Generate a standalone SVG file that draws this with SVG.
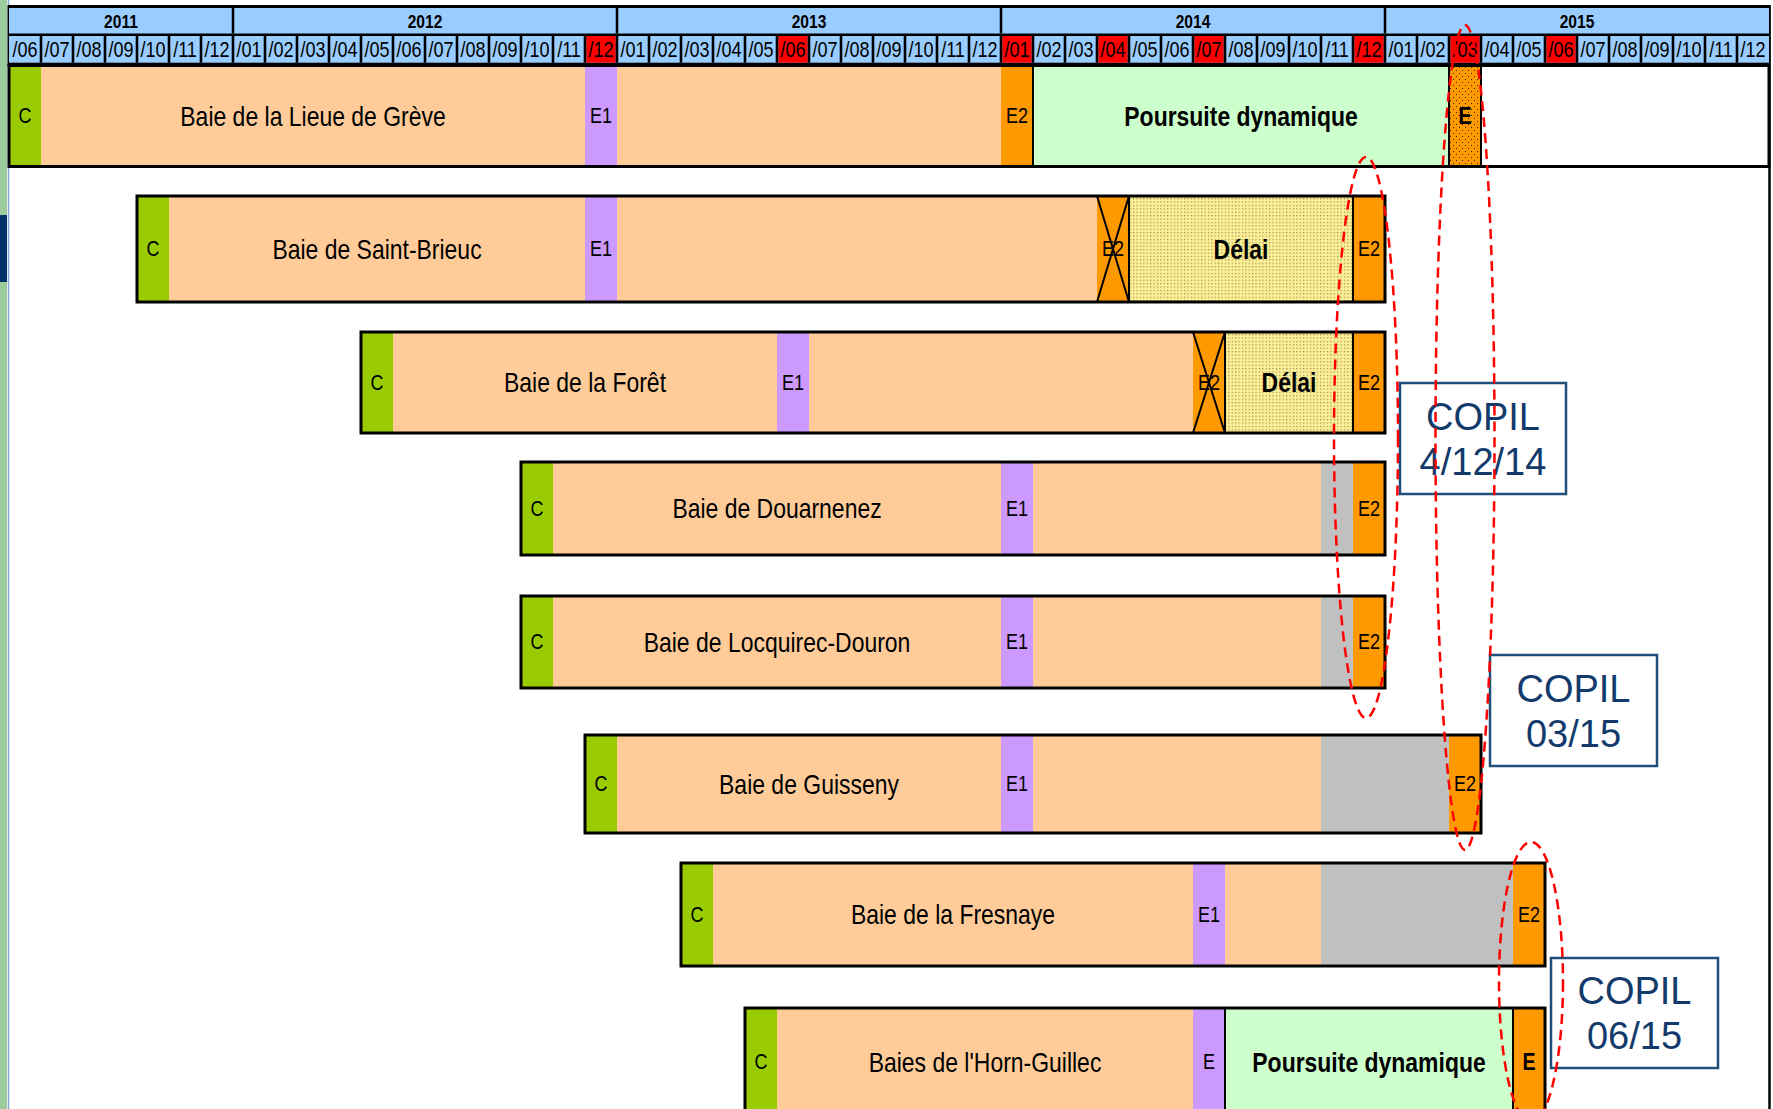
<svg xmlns="http://www.w3.org/2000/svg" width="1773" height="1109" viewBox="0 0 1773 1109">
<style>
.t{font-family:"Liberation Sans Narrow","Arial Narrow","Liberation Sans",Arial,sans-serif;text-anchor:middle;fill:#000}
.big{font-size:28px}
.b{font-weight:bold}
.sm{font-size:22px}
.mo{font-size:22px}
.yr{font-size:19px;font-weight:bold}
.be{font-size:24px;font-weight:bold}
.cp{font-family:"Liberation Sans",Arial,sans-serif;font-size:38px;fill:#123A6B;text-anchor:middle}
.box{fill:#fff;stroke:#1F4E79;stroke-width:2.5}
.ell{fill:none;stroke:#FF0000;stroke-width:2.5;stroke-dasharray:10 6}
.bd{fill:none;stroke:#000;stroke-width:3}
.sep{stroke:#000;stroke-width:2}
.c{fill:#99CC00}.p{fill:#FFCC99}.e1{fill:#CC99FF}.e2{fill:#FF9900}.pd{fill:#CCFFCC}.g{fill:#C0C0C0}.r{fill:#FF0000}
</style>
<defs>
<pattern id="dotY" width="3.4" height="3.4" patternUnits="userSpaceOnUse"><rect width="3.4" height="3.4" fill="#FCEF95"/><rect x="1" y="1" width="1" height="1" fill="#6b6440"/></pattern>
<pattern id="dotO" width="6" height="6" patternUnits="userSpaceOnUse"><rect width="6" height="6" fill="#FF9900"/><rect x="1" y="1" width="1" height="1" fill="#3a2a08"/><rect x="4" y="4" width="1" height="1" fill="#3a2a08"/></pattern>
</defs>
<rect width="1773" height="1109" fill="#fff"/>
<g id="frame">
<rect x="0" y="0" width="7" height="1109" fill="#9CCB9C"/>
<rect x="0" y="215" width="7" height="67" fill="#003366"/>
<line x1="8.5" y1="0" x2="8.5" y2="1109" stroke="#7FA6D6" stroke-width="1.5"/>
<line x1="1769.5" y1="5" x2="1769.5" y2="1109" stroke="#000" stroke-width="2.5"/>
</g>
<g id="timeline-header">
<rect x="7.5" y="5" width="1763" height="62" fill="#000"/>
<rect x="9" y="8" width="1760" height="25.5" fill="#99CCFF"/>
<rect x="9" y="36" width="1760" height="26.7" fill="#99CCFF"/>
<path d="M233 8v25.5M617 8v25.5M1001 8v25.5M1385 8v25.5" stroke="#000" stroke-width="2.5"/>
<g class="r">
<rect x="586.3" y="36" width="29.4" height="26.7"/>
<rect x="778.3" y="36" width="29.4" height="26.7"/>
<rect x="1002.3" y="36" width="29.4" height="26.7"/>
<rect x="1098.3" y="36" width="29.4" height="26.7"/>
<rect x="1194.3" y="36" width="29.4" height="26.7"/>
<rect x="1354.3" y="36" width="29.4" height="26.7"/>
<rect x="1450.3" y="36" width="29.4" height="26.7"/>
<rect x="1546.3" y="36" width="29.4" height="26.7"/>
</g>
<path d="M41 36v26.7M73 36v26.7M105 36v26.7M137 36v26.7M169 36v26.7M201 36v26.7M233 36v26.7M265 36v26.7M297 36v26.7M329 36v26.7M361 36v26.7M393 36v26.7M425 36v26.7M457 36v26.7M489 36v26.7M521 36v26.7M553 36v26.7M585 36v26.7M617 36v26.7M649 36v26.7M681 36v26.7M713 36v26.7M745 36v26.7M777 36v26.7M809 36v26.7M841 36v26.7M873 36v26.7M905 36v26.7M937 36v26.7M969 36v26.7M1001 36v26.7M1033 36v26.7M1065 36v26.7M1097 36v26.7M1129 36v26.7M1161 36v26.7M1193 36v26.7M1225 36v26.7M1257 36v26.7M1289 36v26.7M1321 36v26.7M1353 36v26.7M1385 36v26.7M1417 36v26.7M1449 36v26.7M1481 36v26.7M1513 36v26.7M1545 36v26.7M1577 36v26.7M1609 36v26.7M1641 36v26.7M1673 36v26.7M1705 36v26.7M1737 36v26.7" stroke="#000" stroke-width="2.6"/>
<g class="t yr">
<text x="0" y="28" transform="matrix(.82 0 0 1 121 0)">2011</text><text x="0" y="28" transform="matrix(.82 0 0 1 425 0)">2012</text><text x="0" y="28" transform="matrix(.82 0 0 1 809 0)">2013</text><text x="0" y="28" transform="matrix(.82 0 0 1 1193 0)">2014</text><text x="0" y="28" transform="matrix(.82 0 0 1 1577 0)">2015</text>
</g>
<g class="t mo">
<text x="0" y="57" transform="matrix(.82 0 0 1 25 0)">/06</text><text x="0" y="57" transform="matrix(.82 0 0 1 57 0)">/07</text><text x="0" y="57" transform="matrix(.82 0 0 1 89 0)">/08</text><text x="0" y="57" transform="matrix(.82 0 0 1 121 0)">/09</text><text x="0" y="57" transform="matrix(.82 0 0 1 153 0)">/10</text><text x="0" y="57" transform="matrix(.82 0 0 1 185 0)">/11</text><text x="0" y="57" transform="matrix(.82 0 0 1 217 0)">/12</text>
<text x="0" y="57" transform="matrix(.82 0 0 1 249 0)">/01</text><text x="0" y="57" transform="matrix(.82 0 0 1 281 0)">/02</text><text x="0" y="57" transform="matrix(.82 0 0 1 313 0)">/03</text><text x="0" y="57" transform="matrix(.82 0 0 1 345 0)">/04</text><text x="0" y="57" transform="matrix(.82 0 0 1 377 0)">/05</text><text x="0" y="57" transform="matrix(.82 0 0 1 409 0)">/06</text><text x="0" y="57" transform="matrix(.82 0 0 1 441 0)">/07</text><text x="0" y="57" transform="matrix(.82 0 0 1 473 0)">/08</text><text x="0" y="57" transform="matrix(.82 0 0 1 505 0)">/09</text><text x="0" y="57" transform="matrix(.82 0 0 1 537 0)">/10</text><text x="0" y="57" transform="matrix(.82 0 0 1 569 0)">/11</text><text x="0" y="57" transform="matrix(.82 0 0 1 601 0)">/12</text>
<text x="0" y="57" transform="matrix(.82 0 0 1 633 0)">/01</text><text x="0" y="57" transform="matrix(.82 0 0 1 665 0)">/02</text><text x="0" y="57" transform="matrix(.82 0 0 1 697 0)">/03</text><text x="0" y="57" transform="matrix(.82 0 0 1 729 0)">/04</text><text x="0" y="57" transform="matrix(.82 0 0 1 761 0)">/05</text><text x="0" y="57" transform="matrix(.82 0 0 1 793 0)">/06</text><text x="0" y="57" transform="matrix(.82 0 0 1 825 0)">/07</text><text x="0" y="57" transform="matrix(.82 0 0 1 857 0)">/08</text><text x="0" y="57" transform="matrix(.82 0 0 1 889 0)">/09</text><text x="0" y="57" transform="matrix(.82 0 0 1 921 0)">/10</text><text x="0" y="57" transform="matrix(.82 0 0 1 953 0)">/11</text><text x="0" y="57" transform="matrix(.82 0 0 1 985 0)">/12</text>
<text x="0" y="57" transform="matrix(.82 0 0 1 1017 0)">/01</text><text x="0" y="57" transform="matrix(.82 0 0 1 1049 0)">/02</text><text x="0" y="57" transform="matrix(.82 0 0 1 1081 0)">/03</text><text x="0" y="57" transform="matrix(.82 0 0 1 1113 0)">/04</text><text x="0" y="57" transform="matrix(.82 0 0 1 1145 0)">/05</text><text x="0" y="57" transform="matrix(.82 0 0 1 1177 0)">/06</text><text x="0" y="57" transform="matrix(.82 0 0 1 1209 0)">/07</text><text x="0" y="57" transform="matrix(.82 0 0 1 1241 0)">/08</text><text x="0" y="57" transform="matrix(.82 0 0 1 1273 0)">/09</text><text x="0" y="57" transform="matrix(.82 0 0 1 1305 0)">/10</text><text x="0" y="57" transform="matrix(.82 0 0 1 1337 0)">/11</text><text x="0" y="57" transform="matrix(.82 0 0 1 1369 0)">/12</text>
<text x="0" y="57" transform="matrix(.82 0 0 1 1401 0)">/01</text><text x="0" y="57" transform="matrix(.82 0 0 1 1433 0)">/02</text><text x="0" y="57" transform="matrix(.82 0 0 1 1465 0)">/03</text><text x="0" y="57" transform="matrix(.82 0 0 1 1497 0)">/04</text><text x="0" y="57" transform="matrix(.82 0 0 1 1529 0)">/05</text><text x="0" y="57" transform="matrix(.82 0 0 1 1561 0)">/06</text><text x="0" y="57" transform="matrix(.82 0 0 1 1593 0)">/07</text><text x="0" y="57" transform="matrix(.82 0 0 1 1625 0)">/08</text><text x="0" y="57" transform="matrix(.82 0 0 1 1657 0)">/09</text><text x="0" y="57" transform="matrix(.82 0 0 1 1689 0)">/10</text><text x="0" y="57" transform="matrix(.82 0 0 1 1721 0)">/11</text><text x="0" y="57" transform="matrix(.82 0 0 1 1753 0)">/12</text>
</g>
</g>
<g id="row-lieue-de-greve">
<rect class="c" x="9" y="65" width="32" height="102"/>
<rect class="p" x="41" y="65" width="544" height="102"/>
<rect class="e1" x="585" y="65" width="32" height="102"/>
<rect class="p" x="617" y="65" width="384" height="102"/>
<rect class="e2" x="1001" y="65" width="32" height="102"/>
<rect class="pd" x="1033" y="65" width="416" height="102"/>
<rect fill="url(#dotO)" x="1449" y="65" width="32" height="102"/>
<rect fill="#fff" x="1481" y="65" width="288" height="102"/>
<path class="sep" d="M1033 65v102M1449 65v102M1481 65v102"/>
<rect class="bd" x="9" y="65.5" width="1760" height="101"/>
<text class="t sm" x="0" y="123.5" transform="matrix(.82 0 0 1 25 0)">C</text>
<text class="t big" x="0" y="126" transform="matrix(.82 0 0 1 313 0)">Baie de la Lieue de Grève</text>
<text class="t sm" x="0" y="123.5" transform="matrix(.82 0 0 1 601 0)">E1</text>
<text class="t sm" x="0" y="123.5" transform="matrix(.82 0 0 1 1017 0)">E2</text>
<text class="t big b" x="0" y="126" transform="matrix(.82 0 0 1 1241 0)">Poursuite dynamique</text>
<text class="t be" x="0" y="124.5" transform="matrix(.82 0 0 1 1465 0)">E</text>
</g>
<g id="row-saint-brieuc">
<rect class="c" x="137" y="196" width="32" height="106"/>
<rect class="p" x="169" y="196" width="416" height="106"/>
<rect class="e1" x="585" y="196" width="32" height="106"/>
<rect class="p" x="617" y="196" width="480" height="106"/>
<rect class="e2" x="1097" y="196" width="32" height="106"/>
<rect fill="url(#dotY)" x="1129" y="196" width="224" height="106"/>
<rect class="e2" x="1353" y="196" width="32" height="106"/>
<text class="t sm" x="0" y="256.5" transform="matrix(.82 0 0 1 1113 0)">E2</text>
<path class="sep" d="M1097 196L1129 302M1129 196L1097 302M1129 196v106M1353 196v106"/>
<rect class="bd" x="137" y="196" width="1248" height="106"/>
<text class="t sm" x="0" y="256.5" transform="matrix(.82 0 0 1 153 0)">C</text>
<text class="t big" x="0" y="259" transform="matrix(.82 0 0 1 377 0)">Baie de Saint-Brieuc</text>
<text class="t sm" x="0" y="256.5" transform="matrix(.82 0 0 1 601 0)">E1</text>
<text class="t big b" x="0" y="259" transform="matrix(.82 0 0 1 1241 0)">Délai</text>
<text class="t sm" x="0" y="256.5" transform="matrix(.82 0 0 1 1369 0)">E2</text>
</g>
<g id="row-la-foret">
<rect class="c" x="361" y="332" width="32" height="101"/>
<rect class="p" x="393" y="332" width="384" height="101"/>
<rect class="e1" x="777" y="332" width="32" height="101"/>
<rect class="p" x="809" y="332" width="384" height="101"/>
<rect class="e2" x="1193" y="332" width="32" height="101"/>
<rect fill="url(#dotY)" x="1225" y="332" width="128" height="101"/>
<rect class="e2" x="1353" y="332" width="32" height="101"/>
<text class="t sm" x="0" y="390" transform="matrix(.82 0 0 1 1209 0)">E2</text>
<path class="sep" d="M1193 332L1225 433M1225 332L1193 433M1225 332v101M1353 332v101"/>
<rect class="bd" x="361" y="332" width="1024" height="101"/>
<text class="t sm" x="0" y="390" transform="matrix(.82 0 0 1 377 0)">C</text>
<text class="t big" x="0" y="392.5" transform="matrix(.82 0 0 1 585 0)">Baie de la Forêt</text>
<text class="t sm" x="0" y="390" transform="matrix(.82 0 0 1 793 0)">E1</text>
<text class="t big b" x="0" y="392.5" transform="matrix(.82 0 0 1 1289 0)">Délai</text>
<text class="t sm" x="0" y="390" transform="matrix(.82 0 0 1 1369 0)">E2</text>
</g>
<g id="row-douarnenez">
<rect class="c" x="521" y="462" width="32" height="93"/>
<rect class="p" x="553" y="462" width="448" height="93"/>
<rect class="e1" x="1001" y="462" width="32" height="93"/>
<rect class="p" x="1033" y="462" width="288" height="93"/>
<rect class="g" x="1321" y="462" width="32" height="93"/>
<rect class="e2" x="1353" y="462" width="32" height="93"/>
<rect class="bd" x="521" y="462" width="864" height="93"/>
<text class="t sm" x="0" y="516" transform="matrix(.82 0 0 1 537 0)">C</text>
<text class="t big" x="0" y="518.5" transform="matrix(.82 0 0 1 777 0)">Baie de Douarnenez</text>
<text class="t sm" x="0" y="516" transform="matrix(.82 0 0 1 1017 0)">E1</text>
<text class="t sm" x="0" y="516" transform="matrix(.82 0 0 1 1369 0)">E2</text>
</g>
<g id="row-locquirec-douron">
<rect class="c" x="521" y="596" width="32" height="92"/>
<rect class="p" x="553" y="596" width="448" height="92"/>
<rect class="e1" x="1001" y="596" width="32" height="92"/>
<rect class="p" x="1033" y="596" width="288" height="92"/>
<rect class="g" x="1321" y="596" width="32" height="92"/>
<rect class="e2" x="1353" y="596" width="32" height="92"/>
<rect class="bd" x="521" y="596" width="864" height="92"/>
<text class="t sm" x="0" y="649.5" transform="matrix(.82 0 0 1 537 0)">C</text>
<text class="t big" x="0" y="652" transform="matrix(.82 0 0 1 777 0)">Baie de Locquirec-Douron</text>
<text class="t sm" x="0" y="649.5" transform="matrix(.82 0 0 1 1017 0)">E1</text>
<text class="t sm" x="0" y="649.5" transform="matrix(.82 0 0 1 1369 0)">E2</text>
</g>
<g id="row-guisseny">
<rect class="c" x="585" y="735" width="32" height="98"/>
<rect class="p" x="617" y="735" width="384" height="98"/>
<rect class="e1" x="1001" y="735" width="32" height="98"/>
<rect class="p" x="1033" y="735" width="288" height="98"/>
<rect class="g" x="1321" y="735" width="128" height="98"/>
<rect class="e2" x="1449" y="735" width="32" height="98"/>
<rect class="bd" x="585" y="735" width="896" height="98"/>
<text class="t sm" x="0" y="791.5" transform="matrix(.82 0 0 1 601 0)">C</text>
<text class="t big" x="0" y="794" transform="matrix(.82 0 0 1 809 0)">Baie de Guisseny</text>
<text class="t sm" x="0" y="791.5" transform="matrix(.82 0 0 1 1017 0)">E1</text>
<text class="t sm" x="0" y="791.5" transform="matrix(.82 0 0 1 1465 0)">E2</text>
</g>
<g id="row-fresnaye">
<rect class="c" x="681" y="863" width="32" height="103"/>
<rect class="p" x="713" y="863" width="480" height="103"/>
<rect class="e1" x="1193" y="863" width="32" height="103"/>
<rect class="p" x="1225" y="863" width="96" height="103"/>
<rect class="g" x="1321" y="863" width="192" height="103"/>
<rect class="e2" x="1513" y="863" width="32" height="103"/>
<rect class="bd" x="681" y="863" width="864" height="103"/>
<text class="t sm" x="0" y="922" transform="matrix(.82 0 0 1 697 0)">C</text>
<text class="t big" x="0" y="924.5" transform="matrix(.82 0 0 1 953 0)">Baie de la Fresnaye</text>
<text class="t sm" x="0" y="922" transform="matrix(.82 0 0 1 1209 0)">E1</text>
<text class="t sm" x="0" y="922" transform="matrix(.82 0 0 1 1529 0)">E2</text>
</g>
<g id="row-horn-guillec">
<rect class="c" x="745" y="1008" width="32" height="117"/>
<rect class="p" x="777" y="1008" width="416" height="117"/>
<rect class="e1" x="1193" y="1008" width="32" height="117"/>
<rect class="pd" x="1225" y="1008" width="288" height="117"/>
<rect class="e2" x="1513" y="1008" width="32" height="117"/>
<path class="sep" d="M1225 1008v117M1513 1008v117"/>
<rect class="bd" x="745" y="1008" width="800" height="117"/>
<text class="t sm" x="0" y="1069.5" transform="matrix(.82 0 0 1 761 0)">C</text>
<text class="t big" x="0" y="1072" transform="matrix(.82 0 0 1 985 0)">Baies de l'Horn-Guillec</text>
<text class="t sm" x="0" y="1069.5" transform="matrix(.82 0 0 1 1209 0)">E</text>
<text class="t big b" x="0" y="1072" transform="matrix(.82 0 0 1 1369 0)">Poursuite dynamique</text>
<text class="t be" x="0" y="1070.5" transform="matrix(.82 0 0 1 1529 0)">E</text>
</g>
<g id="copil-4-12-14">
<rect class="box" x="1400" y="383" width="166" height="111"/>
<text class="cp" x="1483" y="430">COPIL</text>
<text class="cp" x="1483" y="475">4/12/14</text>
</g>
<g id="copil-03-15">
<rect class="box" x="1490" y="655" width="167" height="111"/>
<text class="cp" x="1573.5" y="702">COPIL</text>
<text class="cp" x="1573.5" y="747">03/15</text>
</g>
<g id="copil-06-15">
<rect class="box" x="1551" y="958" width="167" height="110"/>
<text class="cp" x="1634.5" y="1004">COPIL</text>
<text class="cp" x="1634.5" y="1049">06/15</text>
</g>
<g id="connectors">
<ellipse class="ell" cx="1366" cy="437.5" rx="32" ry="280.5"/>
<ellipse class="ell" cx="1465" cy="437.5" rx="29.5" ry="412.5"/>
<ellipse class="ell" cx="1531" cy="982" rx="32" ry="140"/>
</g>
</svg>
